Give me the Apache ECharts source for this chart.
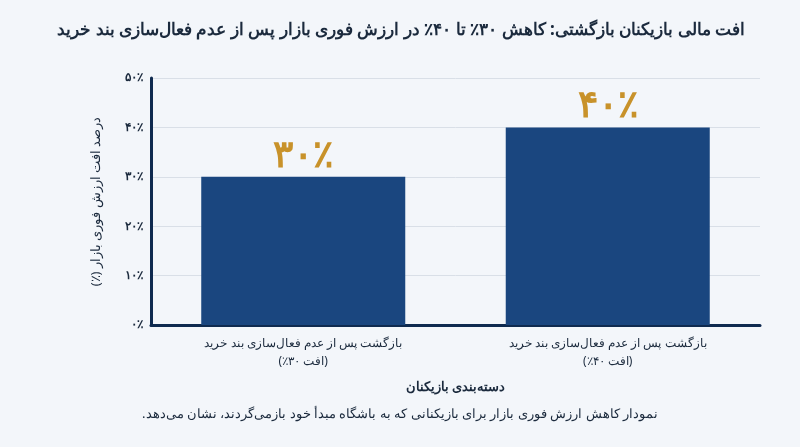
<!DOCTYPE html>
<html><head><meta charset="utf-8">
<script src="https://cdn.jsdelivr.net/npm/echarts@6/dist/echarts.min.js"></script>
<style>html,body{margin:0;padding:0;background:#f3f6fa;}#c{width:800px;height:447px;}</style>
</head><body><div id="c"></div>
<script>
const R = s => '\u202B' + s + '\u202C';
const categories = ['بازگشت پس از عدم فعال‌سازی بند خرید\n(افت ۳۰٪)', 'بازگشت پس از عدم فعال‌سازی بند خرید\n(افت ۴۰٪)'];
const values = [30, 40];
const valueLabels = ['۳۰٪', '۴۰٪'];
const yTickLabels = {0:'۰٪',10:'۱۰٪',20:'۲۰٪',30:'۳۰٪',40:'۴۰٪',50:'۵۰٪'};
const F = 'Noto Sans, sans-serif';
const chart = echarts.init(document.getElementById('c'));
chart.setOption({
  backgroundColor: '#f3f6fa',
  title: [{
    text: R('افت مالی بازیکنان بازگشتی: کاهش ۳۰٪ تا ۴۰٪ در ارزش فوری بازار پس از عدم فعال‌سازی بند خرید'),
    right: 50, top: 17,
    textStyle: {fontFamily: F, fontSize: 17, fontWeight: 'bold', color: '#1b2a3d'}
  }, {
    text: R('نمودار کاهش ارزش فوری بازار برای بازیکنانی که به باشگاه مبدأ خود بازمی‌گردند، نشان می‌دهد.'),
    left: 'center', top: 403,
    textStyle: {fontFamily: F, fontSize: 13, fontWeight: 'normal', color: '#1b2a3d'}
  }],
  grid: {left: 151, right: 40, top: 78, bottom: 122},
  xAxis: {
    type: 'category', data: categories,
    name: R('دسته‌بندی بازیکنان'), nameLocation: 'middle', nameGap: 56,
    nameTextStyle: {fontFamily: F, fontSize: 13, fontWeight: 'bold', color: '#1b2a3d'},
    axisLine: {lineStyle: {color: '#0f2a4f', width: 3}},
    axisTick: {show: false},
    axisLabel: {fontFamily: F, fontSize: 12, color: '#1b2a3d', lineHeight: 18, margin: 10,
      formatter: v => v.split('\n').map(R).join('\n')}
  },
  yAxis: {
    type: 'value', min: 0, max: 50, interval: 10,
    name: R('درصد افت ارزش فوری بازار (٪)'), nameLocation: 'middle', nameGap: 48, nameRotate: 90,
    nameTextStyle: {fontFamily: F, fontSize: 13, color: '#1b2a3d'},
    axisLine: {show: true, lineStyle: {color: '#0f2a4f', width: 3}},
    splitLine: {lineStyle: {color: '#d9dfe7'}},
    axisLabel: {fontFamily: F, fontSize: 12, fontWeight: 'bold', color: '#1b2a3d', formatter: v => yTickLabels[v]}
  },
  series: [{
    type: 'bar', data: values, barWidth: '67%',
    itemStyle: {color: '#1a467f'},
    label: {show: true, position: 'top', distance: 2,
      formatter: p => valueLabels[p.dataIndex],
      fontFamily: F, fontSize: 38, fontWeight: 'bold', color: '#c8922a'}
  }]
});
</script></body></html>
